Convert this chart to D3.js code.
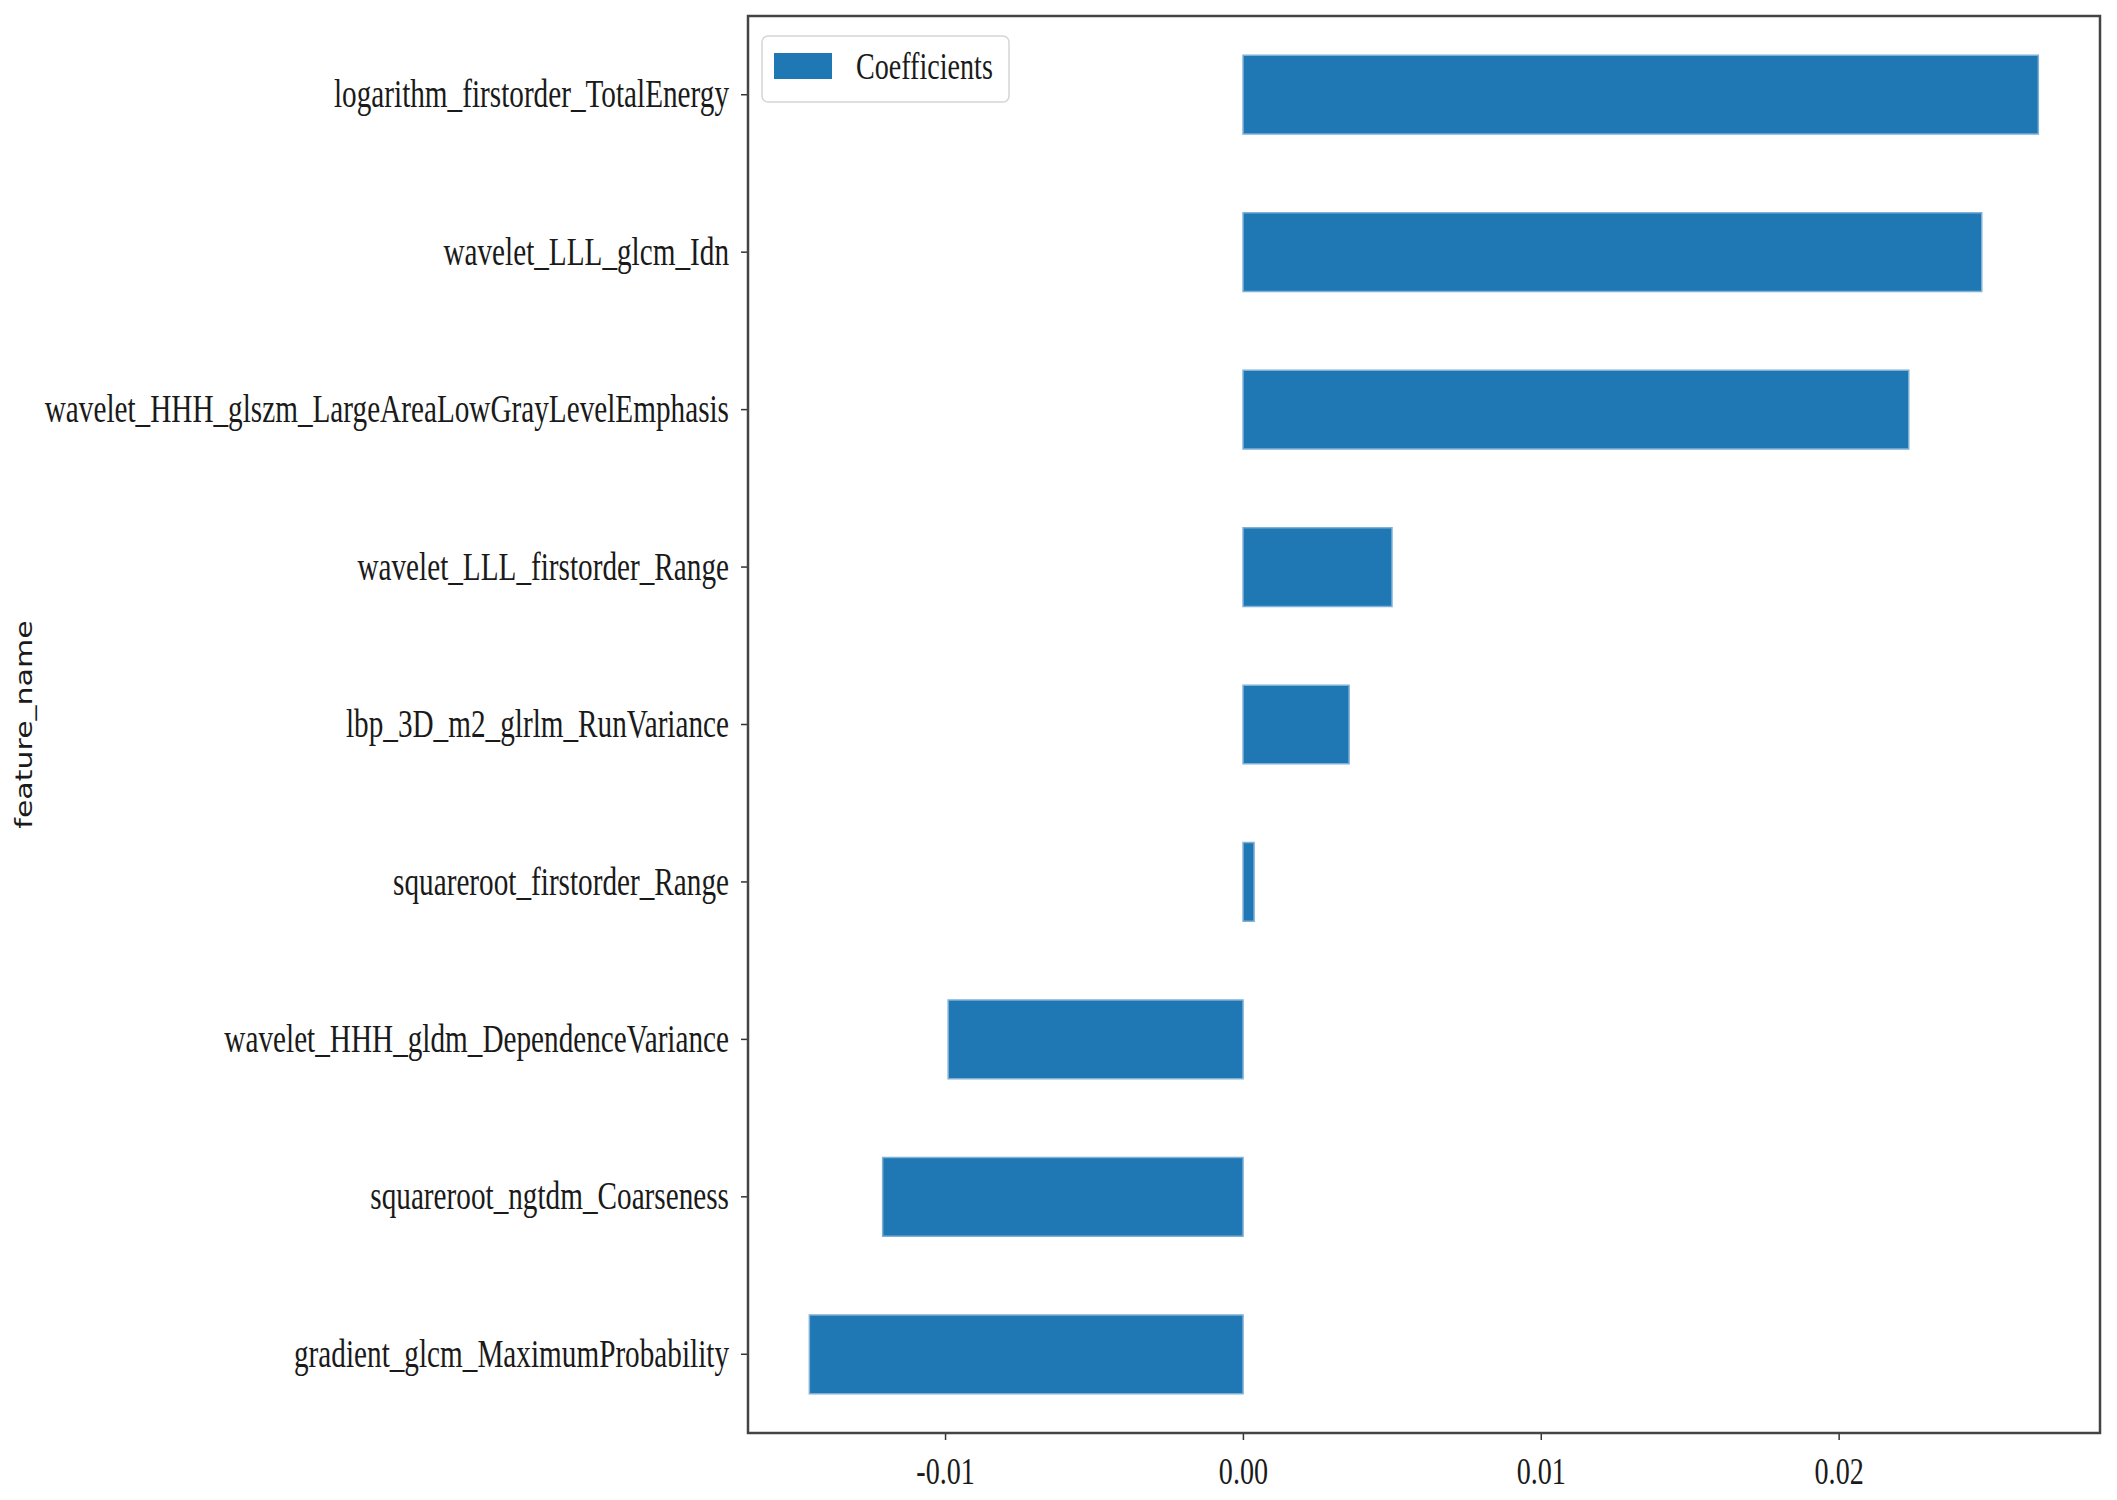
<!DOCTYPE html>
<html>
<head>
<meta charset="utf-8">
<script src="https://cdn.jsdelivr.net/npm/d3@7"></script>
<style>
  body { margin: 0; background: #fff; }
  svg { display: block; }
</style>
</head>
<body>
<svg id="chart"></svg>
<script>
const width = 2117
const height = 1500

// the picture is squeezed sideways, text included, so draw in a wider space and squeeze it back
const sx = 0.74

const features = [
  "logarithm_firstorder_TotalEnergy",
  "wavelet_LLL_glcm_Idn",
  "wavelet_HHH_glszm_LargeAreaLowGrayLevelEmphasis",
  "wavelet_LLL_firstorder_Range",
  "lbp_3D_m2_glrlm_RunVariance",
  "squareroot_firstorder_Range",
  "wavelet_HHH_gldm_DependenceVariance",
  "squareroot_ngtdm_Coarseness",
  "gradient_glcm_MaximumProbability"
]
const coefficients = [0.0267, 0.0248, 0.02235, 0.0050, 0.00356, 0.00037, -0.0099, -0.0121, -0.01456]
const xTicks = [-0.01, 0.00, 0.01, 0.02]

const plotLeft = 748, plotRight = 2100, plotTop = 16, plotBottom = 1433
const serif = "'Liberation Serif', 'Times New Roman', serif"

const svg = d3.select("#chart").attr("width", width).attr("height", height)
const g = svg.append("g").attr("transform", `scale(${sx},1)`)

const x = d3.scaleLinear().domain([-0.01662, 0.02877]).range([plotLeft / sx, plotRight / sx])
const y = d3.scaleBand().domain(features).range([plotTop, plotBottom]).paddingInner(0.5).paddingOuter(0.25)

// bars
g.selectAll("rect.bar")
  .data(features)
  .join("rect")
  .attr("class", "bar")
  .attr("x", (d, i) => x(Math.min(0, coefficients[i])))
  .attr("width", (d, i) => Math.abs(x(coefficients[i]) - x(0)))
  .attr("y", d => y(d))
  .attr("height", y.bandwidth())
  .attr("fill", "#1f77b4")
  .attr("stroke", "#7fb0d6")
  .attr("stroke-width", 1.5)
  .attr("vector-effect", "non-scaling-stroke")

// axes
const fmt = d3.format(".2f")
const xAxis = g.append("g")
  .attr("transform", `translate(0,${plotBottom})`)
  .call(d3.axisBottom(x).tickValues(xTicks).tickFormat(d => fmt(d).replace("\u2212", "-")).tickSize(7).tickSizeOuter(0).tickPadding(17))
const yAxis = g.append("g")
  .attr("transform", `translate(${plotLeft / sx},0)`)
  .call(d3.axisLeft(y).tickSize(7 / sx).tickSizeOuter(0).tickPadding(12 / sx))

for (const ax of [xAxis, yAxis]) {
  ax.select(".domain").remove()
  ax.selectAll("line").attr("stroke", "#333").attr("stroke-width", 1.5).attr("vector-effect", "non-scaling-stroke")
  ax.selectAll("text").attr("font-family", serif).attr("font-size", 38).attr("fill", "#1a1a1a")
}
yAxis.selectAll("text").attr("font-size", 39.5)

// frame
g.append("rect")
  .attr("x", plotLeft / sx).attr("y", plotTop)
  .attr("width", (plotRight - plotLeft) / sx).attr("height", plotBottom - plotTop)
  .attr("fill", "none").attr("stroke", "#444").attr("stroke-width", 2.5)
  .attr("vector-effect", "non-scaling-stroke")

// y title
g.append("text")
  .attr("transform", `translate(${32 / sx},${(plotTop + plotBottom) / 2}) rotate(-90)`)
  .attr("text-anchor", "middle")
  .attr("font-family", "'DejaVu Sans', sans-serif")
  .attr("font-size", 30)
  .attr("fill", "#1a1a1a")
  .text("feature_name")

// legend
const lg = g.append("g")
lg.append("rect")
  .attr("x", 762 / sx).attr("y", 36)
  .attr("width", (1009 - 762) / sx).attr("height", 66)
  .attr("rx", 6 / sx).attr("ry", 6)
  .attr("fill", "#fff").attr("stroke", "#d5d5d5").attr("stroke-width", 1.5)
  .attr("vector-effect", "non-scaling-stroke")
lg.append("rect")
  .attr("x", 774 / sx).attr("y", 53)
  .attr("width", (832 - 774) / sx).attr("height", 26)
  .attr("fill", "#1f77b4")
lg.append("text")
  .attr("x", 856 / sx).attr("y", 79)
  .attr("font-family", serif).attr("font-size", 38).attr("fill", "#1a1a1a")
  .text("Coefficients")
</script>
</body>
</html>
